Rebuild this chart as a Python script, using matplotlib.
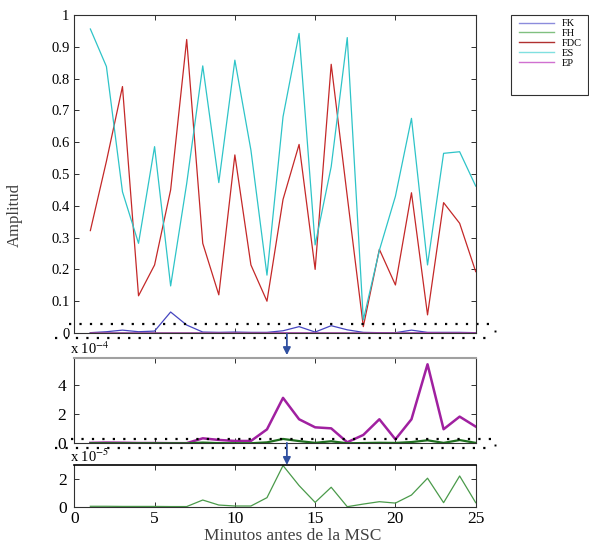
import numpy as np
import matplotlib
matplotlib.use("Agg")
import matplotlib.pyplot as plt
import matplotlib.transforms as mtransforms
from matplotlib.patches import Rectangle
from matplotlib.lines import Line2D

plt.rcParams['font.family'] = ['Liberation Serif', 'DejaVu Serif']
plt.rcParams['mathtext.fontset'] = 'stix'

######################
# Data
######################
minutes = np.arange(1, 26)

# amplitudes
fk = [0.001, 0.004, 0.009, 0.004, 0.006, 0.066, 0.025, 0.003, 0.002, 0.003,
      0.002, 0.002, 0.007, 0.020, 0.003, 0.023, 0.010, 0.002, 0.001, 0.001,
      0.009, 0.002, 0.002, 0.002, 0.001]
fdc = [0.322, 0.54, 0.775, 0.117, 0.214, 0.45, 0.923, 0.282, 0.12, 0.56,
       0.214, 0.10, 0.42, 0.593, 0.20, 0.845, 0.43, 0.02, 0.263, 0.151,
       0.441, 0.057, 0.41, 0.345, 0.193]
es = [0.956, 0.838, 0.444, 0.282, 0.586, 0.148, 0.47, 0.84, 0.473, 0.858,
      0.575, 0.182, 0.68, 0.942, 0.277, 0.523, 0.929, 0.041, 0.26, 0.43,
      0.675, 0.214, 0.565, 0.57, 0.462]
# EP in units of 1e-4
ep_e4 = [0.03, 0.05, 0.04, 0.02, 0.02, 0.01, 0.01, 0.34, 0.23, 0.16,
         0.16, 0.95, 3.1, 1.64, 1.09, 1.02, 0.07, 0.57, 1.64, 0.27,
         1.64, 5.39, 0.96, 1.82, 1.14]
# FH in units of 1e-5
fh_e5 = [0.03, 0.03, 0.02, 0.02, 0.02, 0.01, 0.01, 0.48, 0.12, 0.05,
         0.05, 0.65, 2.96, 1.52, 0.31, 1.4, 0.0, 0.19, 0.36, 0.26,
         0.84, 2.05, 0.29, 2.21, 0.29]

labels = ["FK", "FH", "FDC", "ES", "EP"]
xticks = [0, 5, 10, 15, 20, 25]

ep = np.array(ep_e4) * 1e-4
fh = np.array(fh_e5) * 1e-5

######################
# Styles
######################
c_fk = "#4646c0"
c_fh = "#3c9a3c"
c_fdc = "#c42828"
c_es = "#2ec4c8"
c_ep = "#c030c0"
c_arrow = "#3050a0"
spine_c = "#303030"
dot_ls = (0, (1, 3.7))

W, H = 589, 551
fig = plt.figure(figsize=(W / 100, H / 100), dpi=100)
fig.patch.set_facecolor("white")

left = 74.3 / W
width = 401.4 / W
ax_top = fig.add_axes([left, 1 - 333 / H, width, 318 / H])
ax_mid = fig.add_axes([left, 1 - 443.3 / H, width, 85.6 / H])
ax_bot = fig.add_axes([left, 1 - 506.7 / H, width, 41.7 / H])


def style_axis(ax, fs, pad):
    ax.set_xlim(0, 25)
    ax.set_xticks(xticks)
    ax.tick_params(direction="in", top=True, right=True, length=3.5,
                   width=0.7, color=spine_c, labelsize=fs, pad=pad)
    for s in ax.spines.values():
        s.set_color(spine_c)
        s.set_linewidth(0.8)


######################
# Top panel
######################
ax_top.plot(minutes, fk, color=c_fk, lw=0.9)
ax_top.plot(minutes, fh, color=c_fh, lw=0.9)
ax_top.plot(minutes, fdc, color=c_fdc, lw=0.9)
ax_top.plot(minutes, es, color=c_es, lw=0.9)
ax_top.plot(minutes, ep, color=c_ep, lw=0.9)
style_axis(ax_top, 10.5, 3.5)
ax_top.set_ylim(0, 1)
yt = np.round(np.arange(0, 1.01, 0.1), 1)
ax_top.set_yticks(yt)
ax_top.set_yticklabels([f"{v:g}" for v in yt])
ax_top.set_xticklabels([])
fig.text(15 / W, 1 - 215 / H, "Amplitud", rotation=90, fontsize=12,
         ha="center", va="center", color="#404040")

######################
# Middle panel (x 1e-4)
######################
ax_mid.plot(minutes, ep_e4, color="#a020a0", lw=1.8)
ax_mid.plot(minutes, np.array(fh_e5) / 10, color="#1f6e1f", lw=1.6)
style_axis(ax_mid, 12.5, 6)
ax_mid.set_ylim(0, 5.84)
ax_mid.set_yticks([0, 2, 4])
ax_mid.set_xticklabels([])
ax_mid.spines["top"].set_color("#a0a0a0")
ax_mid.spines["top"].set_linewidth(1.5)
ax_mid.text(-0.01, 1.01, r"x 10$^{-4}$", transform=ax_mid.transAxes,
            fontsize=10.5, ha="left", va="bottom")

######################
# Bottom panel (x 1e-5)
######################
ax_bot.plot(minutes, fh_e5, color="#4a9a4a", lw=0.9)
style_axis(ax_bot, 12.5, 5)
ax_bot.set_ylim(0, 3)
ax_bot.set_yticks([0, 2])
ax_bot.spines["top"].set_color("black")
ax_bot.spines["top"].set_linewidth(1.2)
ax_bot.tick_params(axis="x", pad=3)
fig.text(292.5 / W, 1 - 536 / H, "Minutos antes de la MSC", fontsize=12.5,
         ha="center", va="center", color="#404040")
ax_bot.text(-0.01, 1.0, r"x 10$^{-5}$", transform=ax_bot.transAxes,
            fontsize=10.5, ha="left", va="bottom")

######################
# Zoom markers (dotted bands + arrows)
######################
def dotted_band(ax, y_data, x0_top, y_below, x0_below, x1_below, y_dot):
    tr = mtransforms.blended_transform_factory(ax.transAxes, ax.transData)
    ax.add_line(Line2D([x0_top, 1.037], [y_data, y_data], transform=tr,
                       color="black", lw=1.6, ls=dot_ls, clip_on=False))
    ax.add_line(Line2D([x0_below, x1_below], [y_below, y_below],
                       transform=ax.transAxes, color="black", lw=1.6,
                       ls=dot_ls, clip_on=False))
    ax.plot([1.048], [y_dot], transform=ax.transAxes, ls="none",
            marker="s", ms=1.4, mew=0, color="black", clip_on=False)


dotted_band(ax_top, 0.028, -0.013, -0.015, -0.048, 1.042, 0.007)
dotted_band(ax_mid, 0.31, -0.008, -0.051, -0.048, 1.035, -0.02)


def zoom_arrow(ax, x, y_from, y_to):
    tr = mtransforms.blended_transform_factory(ax.transData, ax.transAxes)
    ax.annotate("", xy=(x, y_to), xycoords=tr, xytext=(x, y_from),
                textcoords=tr, annotation_clip=False,
                arrowprops=dict(arrowstyle="-|>", color=c_arrow, lw=1.3,
                                mutation_scale=11, shrinkA=0, shrinkB=0))


zoom_arrow(ax_mid, 13.24, 1.28, 1.03)
zoom_arrow(ax_bot, 13.24, 1.53, 1.0)

######################
# Legend
######################
fig.add_artist(Rectangle((511 / W, 1 - 95 / H), 77 / W, 80 / H,
                         transform=fig.transFigure, fill=False,
                         edgecolor="#303030", lw=0.8))
leg_colors = ["#8c8cdc", "#80c080", "#b03030", "#80e0e0", "#d070d0"]
handles = [Line2D([], [], color=c, lw=1.0) for c in leg_colors]
fig.legend(handles, labels, loc="upper left",
           bbox_to_anchor=(519 / W, 1 - 19 / H), frameon=False,
           fontsize=7.5, handlelength=3.4, handletextpad=0.75,
           labelspacing=0.05, borderaxespad=0, borderpad=0)

fig.savefig("out.png", dpi=100)
